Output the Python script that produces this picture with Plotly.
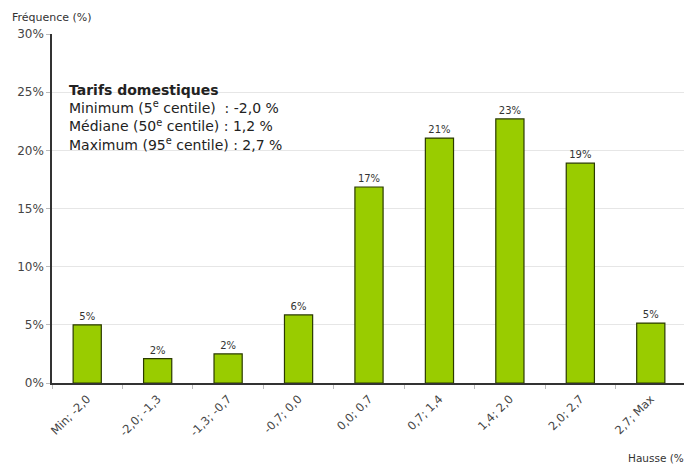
import plotly.graph_objects as go

categories = ["Min; -2,0", "-2,0; -1,3", "-1,3; -0,7", "-0,7; 0,0", "0,0; 0,7",
              "0,7; 1,4", "1,4; 2,0", "2,0; 2,7", "2,7; Max"]
values = [5.0, 2.1, 2.5, 5.85, 16.85, 21.05, 22.7, 18.9, 5.15]
labels = ["5%", "2%", "2%", "6%", "17%", "21%", "23%", "19%", "5%"]
y_ticks = [0, 5, 10, 15, 20, 25, 30]
y_tick_text = ["0%", "5%", "10%", "15%", "20%", "25%", "30%"]

font = "DejaVu Sans, Liberation Sans, Arial, sans-serif"

fig = go.Figure(go.Bar(
    x=categories, y=values, text=labels, textposition="outside",
    textfont=dict(size=10, color="#333333", family=font),
    marker=dict(color="#99CC00", line=dict(color="#2a3a00", width=1.2)),
    cliponaxis=False,
))

fig.update_layout(
    width=684, height=457,
    margin=dict(l=44, r=6, t=26, b=82, autoexpand=False),
    paper_bgcolor="white", plot_bgcolor="white",
    bargap=0.6, showlegend=False,
    font=dict(family=font, color="#333333"),
    xaxis=dict(
        tickangle=-45, tickfont=dict(size=11.5, color="#444444"),
        showline=True, linecolor="#333333", linewidth=1.5,
        ticks="outside", tickson="boundaries", ticklen=4, tickcolor="#bbbbbb",
        ticklabelstandoff=3,
        showgrid=False, automargin=False,
    ),
    yaxis=dict(
        range=[0, 30], tickvals=y_ticks, ticktext=y_tick_text,
        tickfont=dict(size=12, color="#444444"),
        showline=True, linecolor="#333333", linewidth=1.5,
        ticks="outside", ticklen=4, tickcolor="#bbbbbb",
        showgrid=True, gridcolor="#e6e6e6", gridwidth=1, zeroline=False,
        automargin=False,
    ),
    annotations=[
        dict(text="Fréquence (%)", xref="paper", yref="paper", x=-0.066, y=1.0,
             yshift=17, xanchor="left", yanchor="middle", showarrow=False,
             font=dict(size=11, color="#333333")),
        dict(text="Hausse (%)", xref="paper", yref="paper", x=1.006, y=0,
             yshift=-75, xanchor="right", yanchor="middle", showarrow=False,
             font=dict(size=10.5, color="#333333")),
        dict(text="<b>Tarifs domestiques</b><br>Minimum (5<sup>e</sup> centile)  : -2,0 %"
                  "<br>Médiane (50<sup>e</sup> centile) : 1,2 %"
                  "<br>Maximum (95<sup>e</sup> centile) : 2,7 %",
             xref="paper", yref="paper", x=0.024, y=0.868, xanchor="left", yanchor="top",
             align="left", showarrow=False, font=dict(size=14, color="#222222")),
    ],
)

fig.write_html("out.html")
